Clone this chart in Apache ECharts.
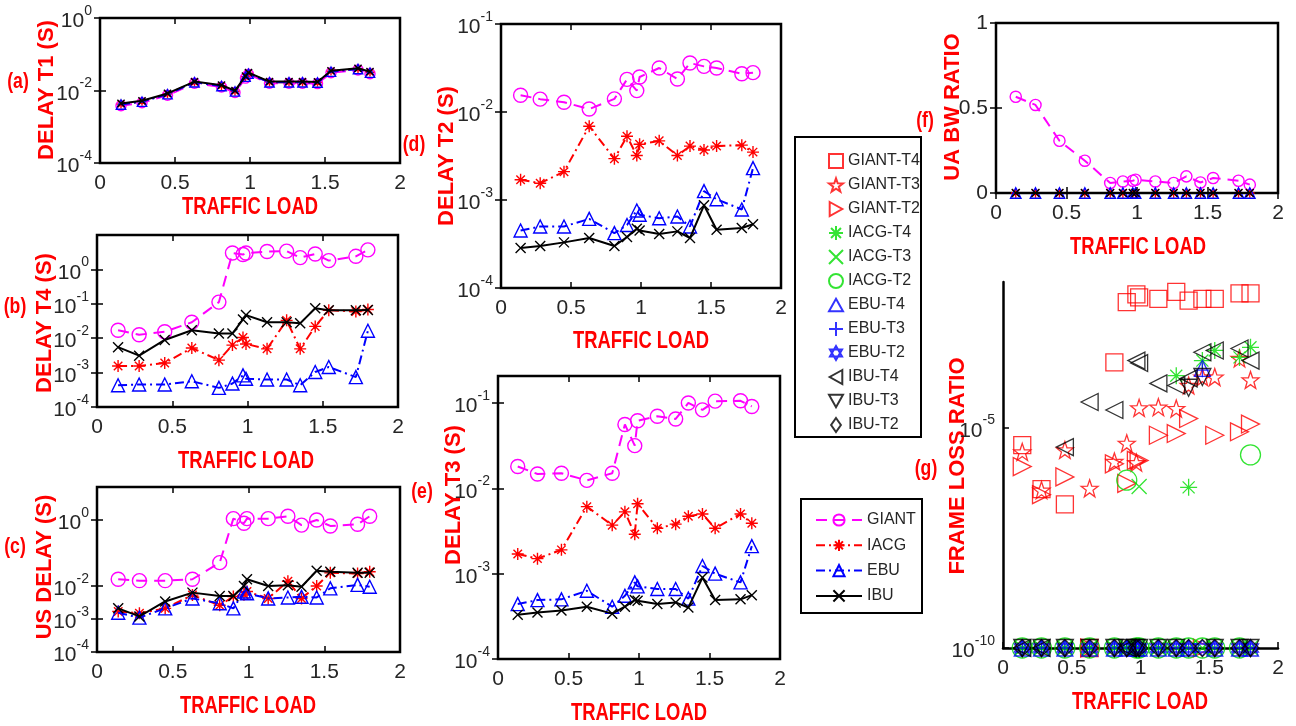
<!DOCTYPE html>
<html><head><meta charset="utf-8">
<script src="https://cdn.jsdelivr.net/npm/echarts@6/dist/echarts.min.js"></script>
<style>html,body{margin:0;padding:0;background:#fff}#c{width:1296px;height:726px}</style>
</head><body><div id="c"></div>
<script>
// ---------------- DATA ----------------
const trafficLoad = [0.14,0.28,0.45,0.63,0.81,0.9,0.97,0.99,1.13,1.26,1.35,1.45,1.54,1.72,1.8];
const xTickValues = [0,0.5,1,1.5,2];
const lineNames = ['GIANT','IACG','EBU','IBU'];
const markerNames = ['GIANT-T4','GIANT-T3','GIANT-T2','IACG-T4','IACG-T3','IACG-T2','EBU-T4','EBU-T3','EBU-T2','IBU-T4','IBU-T3','IBU-T2'];

// (a) DELAY T1
const t1Giant = [0.0038,0.0046,0.0074,0.0158,0.0125,0.0088,0.022,0.028,0.0158,0.0158,0.0158,0.0155,0.031,0.037,0.029];
const t1Iacg  = [0.0042,0.005,0.008,0.017,0.0135,0.0095,0.024,0.030,0.017,0.017,0.017,0.0167,0.034,0.040,0.032];
const t1Ebu   = [0.0041,0.0049,0.0079,0.0168,0.0133,0.0094,0.024,0.029,0.0168,0.0168,0.0168,0.0165,0.033,0.039,0.031];
const t1Ibu   = [0.0044,0.0052,0.0083,0.0176,0.014,0.0099,0.025,0.031,0.0176,0.0176,0.0176,0.0172,0.035,0.041,0.033];
// (b) DELAY T4
const t4Giant = [0.017,0.0126,0.0154,0.029,0.112,3.0,2.7,3.0,3.3,3.4,2.2,2.8,1.8,2.4,3.7];
const t4Iacg  = [0.00155,0.00155,0.0019,0.0052,0.0023,0.0063,0.0105,0.0068,0.0049,0.033,0.0049,0.022,0.065,0.060,0.068];
const t4Ebu   = [0.00043,0.00045,0.00045,0.00056,0.00036,0.00048,0.00083,0.00066,0.00063,0.00063,0.00043,0.00104,0.00145,0.00074,0.0165];
const t4Ibu   = [0.0055,0.0031,0.0089,0.017,0.0138,0.0138,0.035,0.047,0.029,0.029,0.027,0.074,0.065,0.065,0.066];
// (c) US DELAY
const usGiant = [0.016,0.0145,0.0145,0.016,0.051,1.1,0.8,1.1,1.1,1.3,0.7,1.0,0.66,0.74,1.3];
const usIacg  = [0.0017,0.0015,0.0021,0.0053,0.0026,0.0048,0.0054,0.0068,0.0042,0.014,0.0042,0.010,0.025,0.024,0.027];
const usEbu   = [0.00155,0.0011,0.0021,0.0042,0.0030,0.0021,0.0068,0.0060,0.0042,0.0045,0.0047,0.0045,0.0085,0.0108,0.0095];
const usIbu   = [0.0021,0.0012,0.0034,0.0063,0.0050,0.0050,0.010,0.016,0.010,0.0105,0.0095,0.029,0.027,0.025,0.025];
// (d) DELAY T2
const t2Giant = [0.0155,0.014,0.0129,0.0108,0.0141,0.0235,0.0175,0.025,0.0316,0.0237,0.036,0.033,0.0316,0.0272,0.028];
const t2Iacg  = [0.0017,0.00155,0.0021,0.0069,0.00295,0.0053,0.0032,0.0043,0.0047,0.0032,0.0041,0.0037,0.0041,0.0042,0.0035];
const t2Ebu   = [0.00045,0.0005,0.0005,0.00061,0.00042,0.00052,0.00076,0.00068,0.00062,0.00065,0.0005,0.00126,0.00102,0.00078,0.0023];
const t2Ibu   = [0.000285,0.0003,0.00033,0.00037,0.0003,0.00038,0.00047,0.00045,0.00041,0.00044,0.00037,0.00087,0.00046,0.00048,0.00053];
// (e) DELAY T3
const t3Giant = [0.018,0.0147,0.015,0.0124,0.015,0.056,0.0316,0.062,0.070,0.065,0.100,0.083,0.105,0.106,0.091];
const t3Iacg  = [0.0017,0.0015,0.0019,0.0061,0.0037,0.0053,0.0029,0.0066,0.0034,0.0038,0.0047,0.0050,0.0034,0.0050,0.0039];
const t3Ebu   = [0.00044,0.00049,0.0005,0.00063,0.00041,0.00055,0.00079,0.00071,0.00066,0.00066,0.00051,0.00123,0.0010,0.00079,0.0021];
const t3Ibu   = [0.00033,0.00035,0.00037,0.00041,0.00034,0.00041,0.00049,0.00048,0.00044,0.00046,0.0004,0.0009,0.00049,0.0005,0.00056];
// (f) UA BW RATIO
const uaGiant = [0.566,0.518,0.307,0.19,0.059,0.068,0.072,0.078,0.068,0.059,0.098,0.062,0.088,0.072,0.049];
const uaIacg  = [0,0,0,0,0,0,0,0,0,0,0,0,0,0,0];
const uaEbu   = [0,0,0,0,0,0,0,0,0,0,0,0,0,0,0];
const uaIbu   = [0,0,0,0,0,0,0,0,0,0,0,0,0,0,0];
// (g) FRAME LOSS RATIO (1e-10 = no loss)
const flGiantT4 = [4e-6,4e-7,1.8e-7,1e-10,3e-4,7e-3,1.05e-2,9e-3,8.3e-3,1.2e-2,7.6e-3,8.3e-3,8.3e-3,1.1e-2,1.1e-2];
const flGiantT3 = [2.8e-6,3.8e-7,3.1e-6,4.2e-7,1.7e-6,4.4e-6,1.6e-6,2.8e-5,2.9e-5,2.7e-5,9e-5,1.4e-4,1.4e-4,3.7e-4,1.2e-4];
const flGiantT2 = [1.3e-6,3e-7,7.6e-7,1e-10,1.5e-6,5.4e-7,1.8e-6,1.8e-6,6.7e-6,7.3e-6,1.6e-5,1e-10,6.7e-6,8e-6,1.2e-5];
const flIacgT4  = [1e-10,1e-10,1e-10,1e-10,1e-10,1e-10,1e-10,1e-10,1e-10,1.5e-4,4.4e-7,3.3e-4,5.6e-4,3.9e-4,6.6e-4];
const flIacgT3  = [1e-10,1e-10,1e-10,1e-10,1e-10,1e-10,1e-10,4.6e-7,1e-10,1e-10,1e-10,1e-10,1e-10,1e-10,1e-10];
const flIacgT2  = [1e-10,1e-10,1e-10,1e-10,1e-10,6.4e-7,1e-10,1e-10,1e-10,1e-10,1e-10,1e-10,1e-10,1e-10,2.4e-6];
const flEbuT4   = [1e-10,1e-10,1e-10,1e-10,1e-10,1e-10,1e-10,1e-10,1e-10,1e-10,1e-10,2.2e-4,1e-10,1e-10,1e-10];
const flEbuT3   = [1e-10,1e-10,1e-10,1e-10,1e-10,1e-10,1e-10,1e-10,1e-10,1e-10,1e-10,2e-4,1e-10,1e-10,1e-10];
const flEbuT2   = [1e-10,1e-10,1e-10,1e-10,1e-10,1e-10,1e-10,1e-10,1e-10,1e-10,1e-10,1e-10,1e-10,1e-10,1e-10];
const flIbuT4   = [1e-10,1e-10,3.6e-6,3.8e-5,2.5e-5,1e-10,3.3e-4,2.9e-4,1e-4,9e-5,1.3e-4,5.1e-4,5.6e-4,6.2e-4,3.3e-4];
const flIbuT3   = [1e-10,1e-10,1e-10,1e-10,1e-10,1e-10,1e-10,1e-10,1e-10,1e-10,8e-5,1.4e-4,1e-10,1e-10,1e-10];
const flIbuT2   = [1e-10,1e-10,1e-10,1e-10,1e-10,1e-10,1e-10,1e-10,1e-10,1e-10,1e-10,1e-10,1e-10,1e-10,1e-10];

// ---------------- STYLE ----------------
const FONT = "'Liberation Sans',Arial,sans-serif";
const TXT = '#262626';
const RED = '#ff0000';
const P = {
  circle: 'path://M-10,0A10,10,0,1,0,10,0A10,10,0,1,0,-10,0Z',
  square: 'path://M-10,-10L10,-10L10,10L-10,10Z',
  star: 'path://M0,-10L2.35,-3.24L9.51,-3.09L3.8,1.24L5.88,8.09L0,4L-5.88,8.09L-3.8,1.24L-9.51,-3.09L-2.35,-3.24Z',
  right: 'path://M-9,-10L9,0L-9,10Z',
  left: 'path://M9,-10L-9,0L9,10Z',
  down: 'path://M-10,-9L10,-9L0,9Z',
  up: 'path://M0,-10L10,8L-10,8Z',
  diamond: 'path://M0,-10L7,0L0,10L-7,0Z',
  hexagram: 'path://M0,-10L8.66,5L-8.66,5ZM0,10L8.66,-5L-8.66,-5Z',
  asterisk: 'path://M0,-10L0,10M-10,0L10,0M-7.07,-7.07L7.07,7.07M-7.07,7.07L7.07,-7.07',
  xmark: 'path://M-10,-10L10,10M-10,10L10,-10',
  plus: 'path://M0,-10L0,10M-10,0L10,0'
};
const lineDef = {
  GIANT: {color:'#ff00ff', dash:[11,7], symbol:P.circle, size:14},
  IACG:  {color:'#ff0000', dash:[9,4,2,4], symbol:P.asterisk, size:12},
  EBU:   {color:'#0000ff', dash:[9,4,2,4], symbol:P.up, size:13},
  IBU:   {color:'#000000', dash:'solid', symbol:P.xmark, size:10}
};
const markerDef = {
  'GIANT-T4': {color:'#ff0000', symbol:P.square, size:17},
  'GIANT-T3': {color:'#ff0000', symbol:P.star, size:17},
  'GIANT-T2': {color:'#ff0000', symbol:P.right, size:18},
  'IACG-T4':  {color:'#00dd00', symbol:P.asterisk, size:17},
  'IACG-T3':  {color:'#00dd00', symbol:P.xmark, size:15},
  'IACG-T2':  {color:'#00dd00', symbol:P.circle, size:20},
  'EBU-T4':   {color:'#0000ff', symbol:P.up, size:16},
  'EBU-T3':   {color:'#0000ff', symbol:P.plus, size:14},
  'EBU-T2':   {color:'#0000ff', symbol:P.hexagram, size:16},
  'IBU-T4':   {color:'#000000', symbol:P.left, size:17},
  'IBU-T3':   {color:'#000000', symbol:P.down, size:17},
  'IBU-T2':   {color:'#000000', symbol:P.diamond, size:17}
};

const panels = [
  {grid:{left:100,top:18,width:300,height:145}, box:true, log:true, min:1e-4, max:1, ticks:[1e-4,1e-2,1], data:[t1Giant,t1Iacg,t1Ebu,t1Ibu], scale:0.72},
  {grid:{left:97,top:235,width:301,height:172}, box:true, log:true, min:1e-4, max:10, ticks:[1e-4,1e-3,1e-2,1e-1,1], data:[t4Giant,t4Iacg,t4Ebu,t4Ibu], scale:1},
  {grid:{left:97,top:487,width:303,height:165}, box:true, log:true, min:1e-4, max:10, ticks:[1e-4,1e-3,1e-2,1], data:[usGiant,usIacg,usEbu,usIbu], scale:1},
  {grid:{left:501,top:24,width:280,height:264}, box:true, log:true, min:1e-4, max:1e-1, ticks:[1e-4,1e-3,1e-2,1e-1], data:[t2Giant,t2Iacg,t2Ebu,t2Ibu], scale:1},
  {grid:{left:498,top:376,width:282,height:283}, box:true, log:true, min:1e-4, max:0.207, ticks:[1e-4,1e-3,1e-2,1e-1], data:[t3Giant,t3Iacg,t3Ebu,t3Ibu], scale:1},
  {grid:{left:996,top:23,width:282,height:170}, box:true, log:false, min:0, max:1, data:[uaGiant,uaIacg,uaEbu,uaIbu], scale:0.8},
  {grid:{left:1003,top:282,width:275,height:366}, box:false, log:true, min:1e-10, max:0.02, ticks:[1e-10,1e-5],
   scatter:[flGiantT4,flGiantT3,flGiantT2,flIacgT4,flIacgT3,flIacgT2,flEbuT4,flEbuT3,flEbuT2,flIbuT4,flIbuT3,flIbuT2]}
];

const xTitles = [[250,208],[246,462],[248,707],[641,342],[639,714],[1138,248],[1140,703]];
const yTitles = [['DELAY T1 (S)',47,90],['DELAY T4 (S)',45,323],['US DELAY (S)',45,567],['DELAY T2 (S)',447,156],['DELAY T3 (S)',454,495],['UA BW RATIO',953,107],['FRAME LOSS RATIO',958,466]];
const panelTags = [['(a)',18,82],['(b)',15,307],['(c)',15,547],['(d)',414,145],['(e)',422,492],['(f)',925,121],['(g)',926,469]];

// ---------------- BUILD ----------------
function powLabel(v){ const e = Math.round(Math.log10(v)); return '{b|10}{s|' + e + '}'; }
const supRich = {
  b:{fontSize:21, fontFamily:FONT, color:TXT, verticalAlign:'bottom', lineHeight:28},
  s:{fontSize:14, fontFamily:FONT, color:TXT, verticalAlign:'top', lineHeight:28}
};
const tickStyle = {color:'#000', width:1.5};
const grids=[], xAxes=[], yAxes=[], series=[];
function pts(vals){ return trafficLoad.map((x,k)=>[x, vals[k]]); }

panels.forEach((p,i)=>{
  grids.push(Object.assign({show:p.box, borderColor:'#000', borderWidth:2.5, backgroundColor:'transparent'}, p.grid));
  const xb = {type:'value', gridIndex:i, min:0, max:2, interval:0.5, splitLine:{show:false}};
  xAxes.push(Object.assign({}, xb, {position:'bottom',
    axisLine:{show:!p.box, onZero:false, lineStyle:{color:'#000', width:2.5}},
    axisTick:{inside:true, length:6, lineStyle:tickStyle, customValues:xTickValues},
    axisLabel:{fontSize:21, fontFamily:FONT, color:TXT, margin:10, customValues:xTickValues}}));
  xAxes.push(Object.assign({}, xb, {position:'top', axisLine:{show:false}, axisTick:{show:p.box, inside:true, length:6, lineStyle:tickStyle}, axisLabel:{show:false}}));
  let yb;
  if (p.log) {
    yb = {type:'log', logBase:10, gridIndex:i, min:p.min, max:p.max, splitLine:{show:false}};
    yAxes.push(Object.assign({}, yb, {position:'left',
      axisLine:{show:!p.box, onZero:false, lineStyle:{color:'#000', width:2.5}},
      axisTick:{inside:true, length:6, lineStyle:tickStyle, customValues:p.ticks},
      axisLabel:{formatter:powLabel, rich:supRich, margin:8, customValues:p.ticks}}));
    yAxes.push(Object.assign({}, yb, {position:'right', axisLine:{show:false}, axisTick:{show:p.box, inside:true, length:6, lineStyle:tickStyle, customValues:p.ticks}, axisLabel:{show:false}}));
  } else {
    yb = {type:'value', gridIndex:i, min:p.min, max:p.max, interval:0.5, splitLine:{show:false}};
    yAxes.push(Object.assign({}, yb, {position:'left', axisLine:{show:false},
      axisTick:{inside:true, length:6, lineStyle:tickStyle},
      axisLabel:{fontSize:21, fontFamily:FONT, color:TXT, margin:8}}));
    yAxes.push(Object.assign({}, yb, {position:'right', axisLine:{show:false}, axisTick:{show:true, inside:true, length:6, lineStyle:tickStyle}, axisLabel:{show:false}}));
  }
  if (p.data) {
    lineNames.forEach((nm,k)=>{
      const d = lineDef[nm];
      series.push({type:'line', name:nm, xAxisIndex:2*i, yAxisIndex:2*i, data:pts(p.data[k]),
        symbol:d.symbol, symbolSize:d.size*p.scale, showAllSymbol:true,
        lineStyle:{color:d.color, width:2, type:d.dash},
        itemStyle:{color:'rgba(0,0,0,0)', borderColor:d.color, borderWidth:1.4},
        emphasis:{disabled:true}, animation:false, z:2+k});
    });
  }
  if (p.scatter) {
    markerNames.forEach((nm,k)=>{
      const d = markerDef[nm];
      series.push({type:'scatter', name:nm, xAxisIndex:2*i, yAxisIndex:2*i, data:pts(p.scatter[k]),
        symbol:d.symbol, symbolSize:d.size,
        itemStyle:{color:'rgba(0,0,0,0)', borderColor:d.color, borderWidth:1.3},
        emphasis:{disabled:true}, animation:false, z:2+k});
    });
  }
});

const graphics = [];
xTitles.forEach(([x,y])=>graphics.push({type:'text', x:x, y:y, scaleX:0.8, style:{text:'TRAFFIC LOAD', fill:RED, font:'bold 23px ' + FONT, textAlign:'center', textVerticalAlign:'middle'}}));
yTitles.forEach(([t,x,y])=>graphics.push({type:'text', x:x, y:y, rotation:Math.PI/2, style:{text:t, fill:RED, font:'bold 22px ' + FONT, textAlign:'center', textVerticalAlign:'middle'}}));
panelTags.forEach(([t,x,y])=>graphics.push({type:'text', x:x, y:y, scaleX:0.8, style:{text:t, fill:RED, font:'bold 22px ' + FONT, textAlign:'center', textVerticalAlign:'middle'}}));
graphics.push({type:'rect', shape:{x:795,y:137,width:126,height:300}, style:{fill:'none', stroke:'#000', lineWidth:2}, z:-1});
graphics.push({type:'rect', shape:{x:801,y:499,width:121,height:114}, style:{fill:'none', stroke:'#000', lineWidth:2}, z:-1});

const chart = echarts.init(document.getElementById('c'), null, {renderer:'canvas'});
chart.setOption({
  animation:false,
  backgroundColor:'#fff',
  grid:grids, xAxis:xAxes, yAxis:yAxes, series:series,
  legend:[
    {data:markerNames, orient:'vertical', left:823, top:148, itemWidth:14, itemHeight:14, itemGap:8, itemTextGap:8,
     selectedMode:false, textStyle:{fontSize:16, lineHeight:14, fontFamily:FONT, color:TXT}},
    {data:lineNames, orient:'vertical', left:810, top:507, itemWidth:46, itemHeight:14, itemGap:9.3, itemTextGap:9,
     selectedMode:false, textStyle:{fontSize:16, lineHeight:14, fontFamily:FONT, color:TXT}}
  ],
  graphic:graphics
});
</script></body></html>
